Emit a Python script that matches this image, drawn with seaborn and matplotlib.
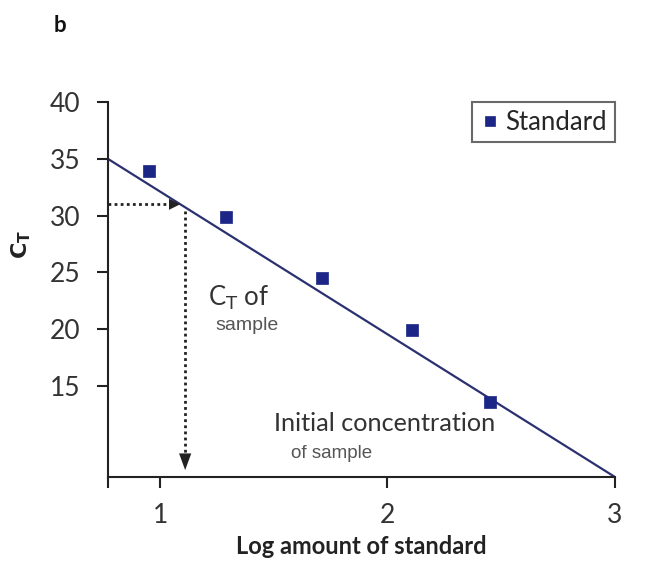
# Standard curve (panel b): Ct vs log amount of standard
import numpy as np
import pandas as pd
import matplotlib
matplotlib.use('Agg')
import matplotlib.pyplot as plt
import seaborn as sns

# data
std_log = [0.95, 1.29, 1.71, 2.11, 2.45]
std_ct = [33.9, 29.9, 24.5, 19.9, 13.6]
fit_log = [0.77, 3.0]
fit_ct = [35.0, 7.0]
sample_ct = 31.0
sample_log = 1.11
x_ticks = [1, 2, 3]
y_ticks = [15, 20, 25, 30, 35, 40]

sns.set_theme(style='ticks')
plt.rcParams['font.family'] = ['Lato', 'DejaVu Sans']

df = pd.DataFrame({'log': std_log, 'ct': std_ct, 'kind': 'Standard'})
fit = pd.DataFrame({'log': fit_log, 'ct': fit_ct})

fig = plt.figure(figsize=(6.66, 5.67), dpi=100)
ax = fig.add_axes([0.162, 0.159, 0.761, 0.661])

navy = '#1c2686'
dark = '#222222'
sns.lineplot(data=fit, x='log', y='ct', color='#2b3170', lw=1.6, ax=ax, legend=False)
sns.scatterplot(data=df, x='log', y='ct', hue='kind', palette=[navy], marker='s',
                s=75, edgecolor=navy, linewidth=0.5, ax=ax, zorder=4)

# dotted guides for the sample
ax.plot([fit_log[0], sample_log - 0.05], [sample_ct, sample_ct], color=dark,
        lw=2, ls=(0, (1, 1.2)))
ax.annotate('', xy=(sample_log - 0.01, sample_ct), xytext=(sample_log - 0.06, sample_ct),
            arrowprops=dict(arrowstyle='-|>,head_length=0.4,head_width=0.2',
                            mutation_scale=20, color=dark, lw=0))
ax.plot([sample_log, sample_log], [sample_ct - 0.6, 8.8], color=dark,
        lw=2, ls=(0, (1, 1.2)))
ax.annotate('', xy=(sample_log, 7.35), xytext=(sample_log, 9.2),
            arrowprops=dict(arrowstyle='-|>,head_length=0.6,head_width=0.22',
                            mutation_scale=20, color=dark, lw=0))

ax.text(1.21, 22.1, r'C$_\mathrm{T}$ of', fontsize=18.5, color='#333333')
ax.text(1.245, 19.9, 'sample', fontsize=14, color='#555555', family='Liberation Sans')
ax.text(1.5, 11.0, 'Initial concentration', fontsize=18.2, color='#333333')
ax.text(1.575, 8.7, 'of sample', fontsize=13.5, color='#555555', family='Liberation Sans')

ax.set_xlim(fit_log[0], 3.0)
ax.set_ylim(7, 40)
ax.set_xticks([fit_log[0]] + x_ticks)
ax.set_xticklabels([''] + [str(t) for t in x_ticks])
ax.set_yticks(y_ticks)
ax.tick_params(axis='both', labelsize=19, length=8, width=1.5, colors=dark,
               labelcolor='#333333', direction='out')
ax.tick_params(axis='x', pad=11)
ax.tick_params(axis='y', pad=12)
for s in ['left', 'bottom']:
    ax.spines[s].set_linewidth(1.5)
    ax.spines[s].set_color(dark)
sns.despine(ax=ax)

ax.set_xlabel('Log amount of standard', fontsize=17, fontweight='bold', color=dark,
              labelpad=5)
ax.set_ylabel(r'$\mathbf{C_T}$', fontsize=16, color=dark)
ax.yaxis.set_label_coords(-0.148, 0.62)

leg = ax.legend(loc='upper right', bbox_to_anchor=(1.0, 1.0), borderaxespad=0,
                fontsize=18.5, frameon=True, fancybox=False, handletextpad=0.2,
                handlelength=0.8, markerscale=0.85, borderpad=0.3)
leg.get_frame().set_edgecolor('#444444')
leg.get_frame().set_linewidth(1.5)

fig.text(0.08, 0.944, 'b', fontsize=16, fontweight='bold', color='#111111')

fig.savefig('out.png', dpi=100)
